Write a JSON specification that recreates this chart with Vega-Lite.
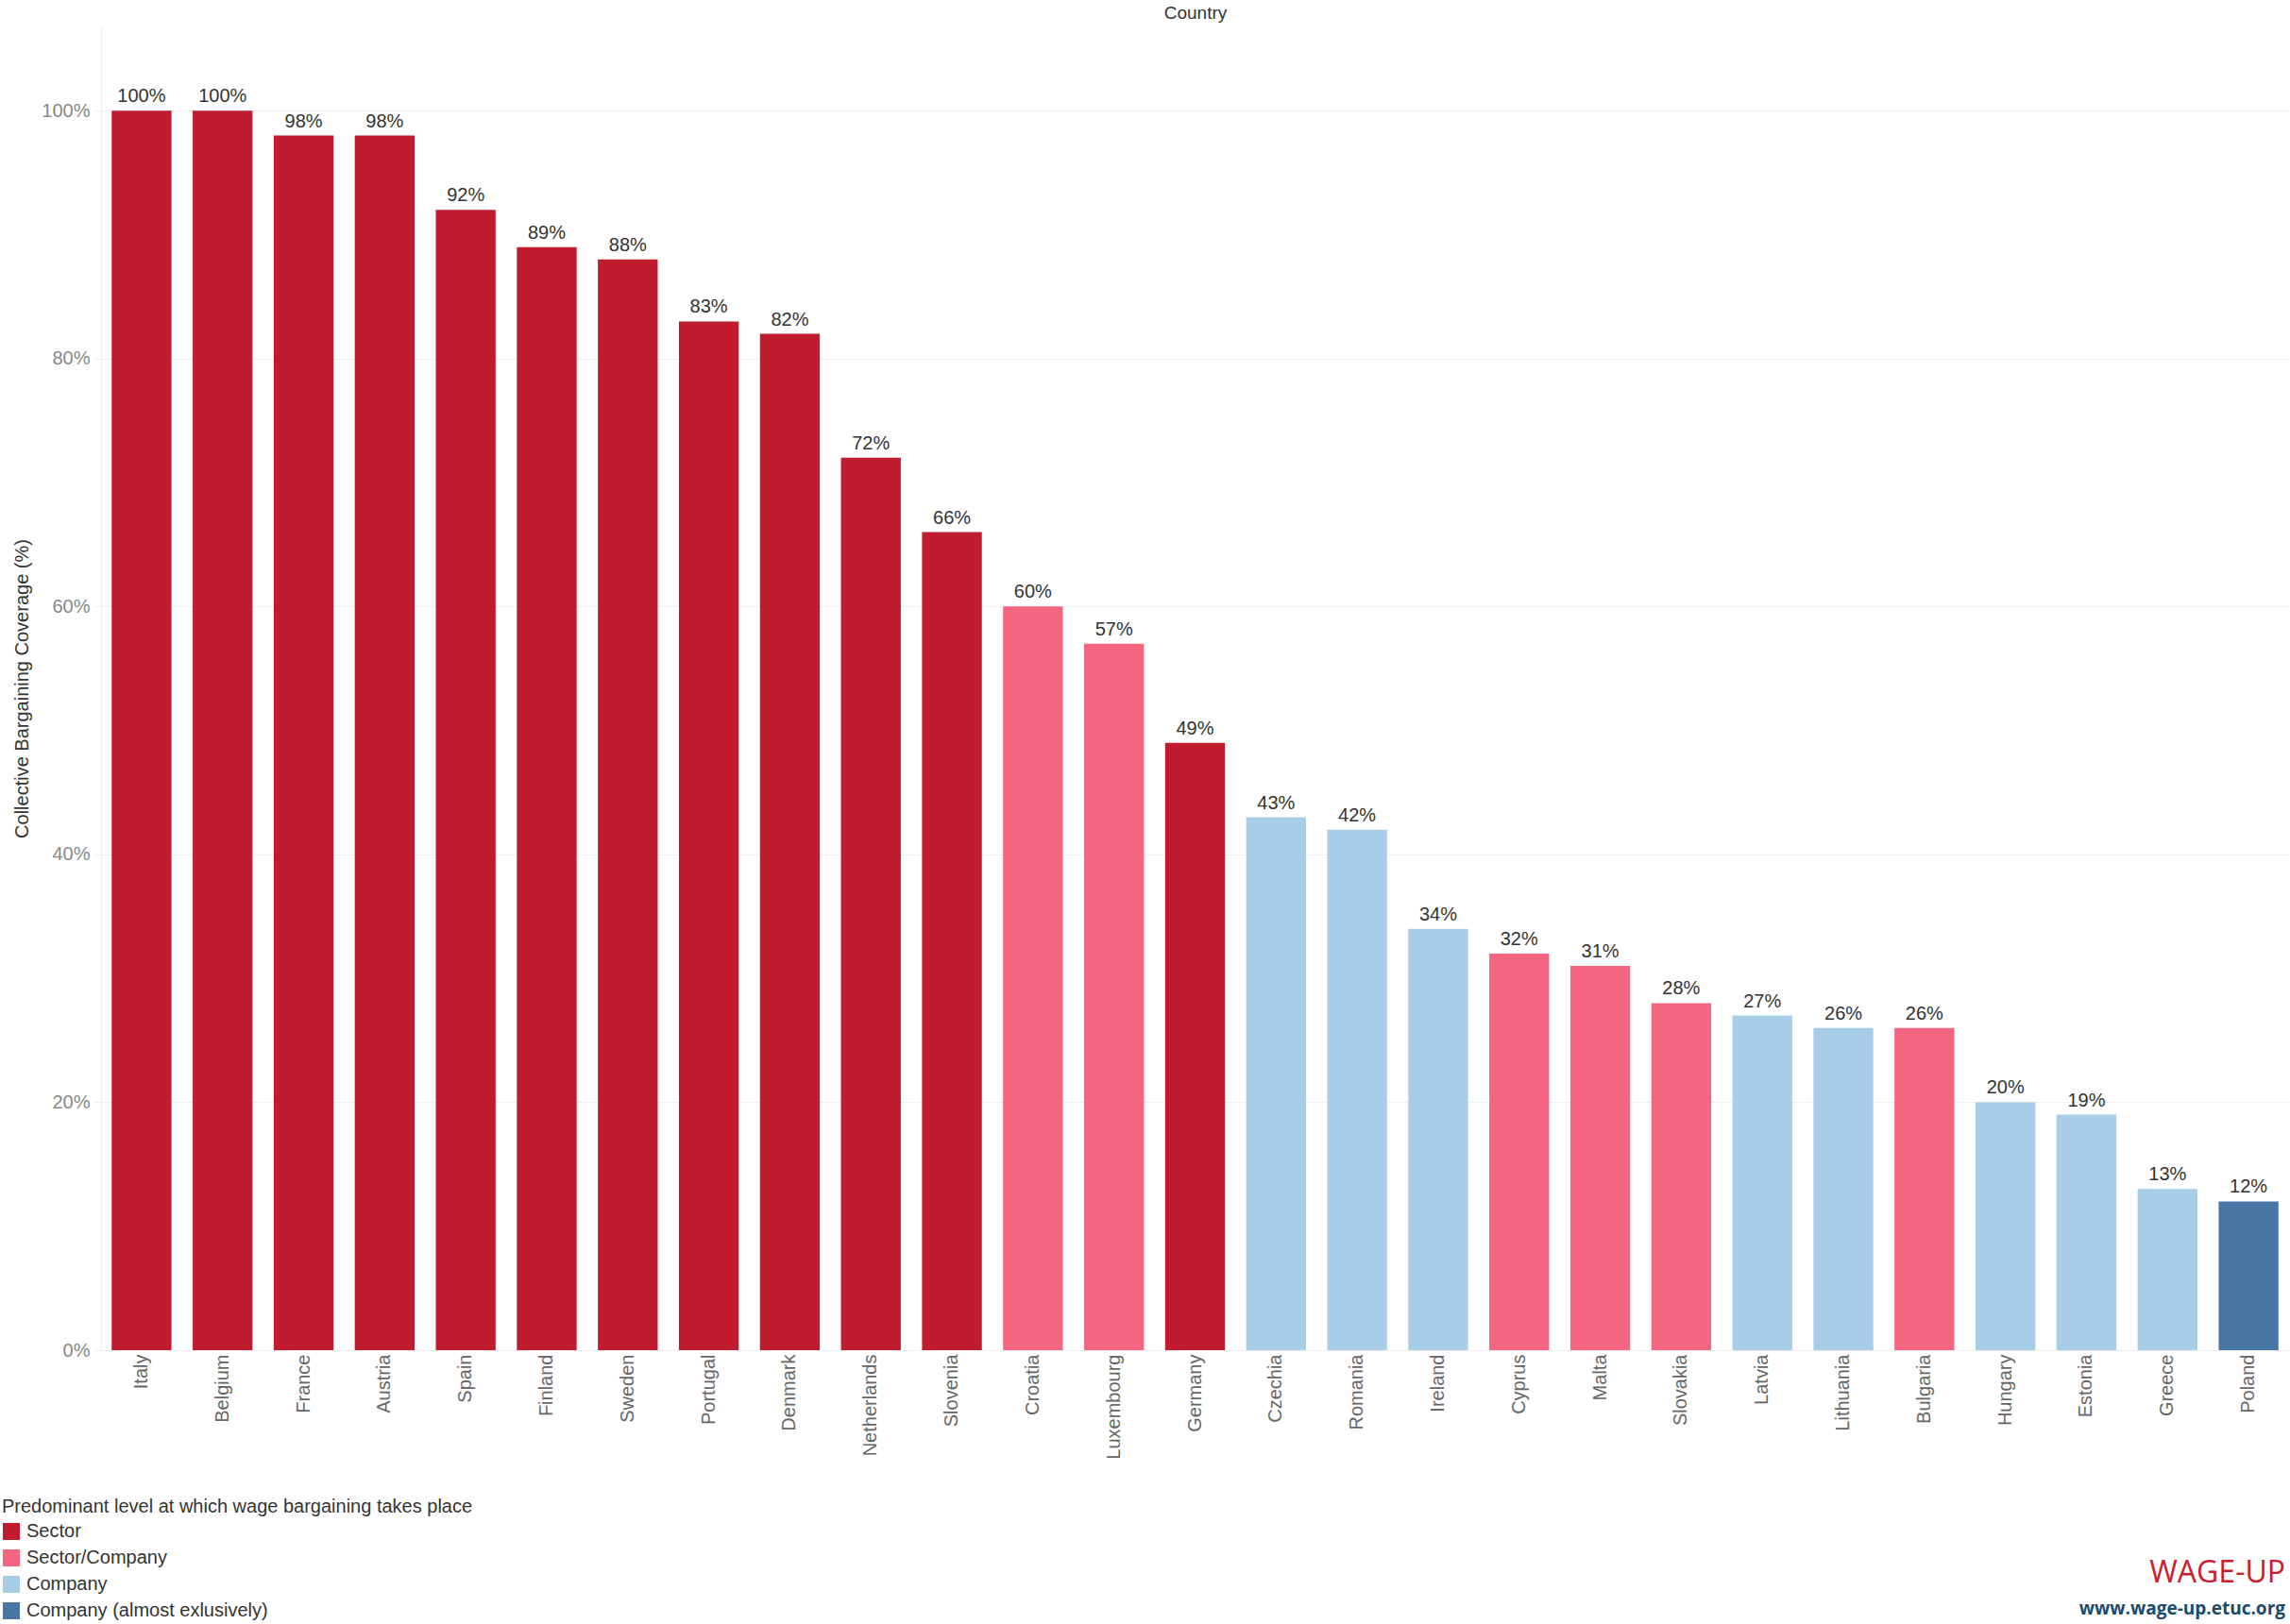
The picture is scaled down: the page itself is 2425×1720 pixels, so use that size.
{
  "$schema": "https://vega.github.io/schema/vega-lite/v6.json",
  "width": 2317,
  "height": 1402,
  "autosize": {"type": "none"},
  "padding": {"left": 107, "top": 28, "right": 1, "bottom": 290},
  "background": "white",
  "config": {
    "view": {"stroke": null},
    "font": "Liberation Sans"
  },
  "title": {
    "text": "WAGE-UP",
    "subtitle": "www.wage-up.etuc.org",
    "orient": "bottom",
    "anchor": "end",
    "frame": "group",
    "font": "Open Sans",
    "fontSize": 32,
    "fontWeight": "normal",
    "color": "#c8202f",
    "subtitleFont": "Open Sans",
    "subtitleFontSize": 19,
    "subtitleFontWeight": "bold",
    "subtitleColor": "#1b4a6b",
    "subtitlePadding": 12,
    "offset": 20,
    "dy": -85,
    "dx": -4
  },
  "data": {
    "values": [
      {"country": "Italy", "coverage": 100, "level": "Sector"},
      {"country": "Belgium", "coverage": 100, "level": "Sector"},
      {"country": "France", "coverage": 98, "level": "Sector"},
      {"country": "Austria", "coverage": 98, "level": "Sector"},
      {"country": "Spain", "coverage": 92, "level": "Sector"},
      {"country": "Finland", "coverage": 89, "level": "Sector"},
      {"country": "Sweden", "coverage": 88, "level": "Sector"},
      {"country": "Portugal", "coverage": 83, "level": "Sector"},
      {"country": "Denmark", "coverage": 82, "level": "Sector"},
      {"country": "Netherlands", "coverage": 72, "level": "Sector"},
      {"country": "Slovenia", "coverage": 66, "level": "Sector"},
      {"country": "Croatia", "coverage": 60, "level": "Sector/Company"},
      {"country": "Luxembourg", "coverage": 57, "level": "Sector/Company"},
      {"country": "Germany", "coverage": 49, "level": "Sector"},
      {"country": "Czechia", "coverage": 43, "level": "Company"},
      {"country": "Romania", "coverage": 42, "level": "Company"},
      {"country": "Ireland", "coverage": 34, "level": "Company"},
      {"country": "Cyprus", "coverage": 32, "level": "Sector/Company"},
      {"country": "Malta", "coverage": 31, "level": "Sector/Company"},
      {"country": "Slovakia", "coverage": 28, "level": "Sector/Company"},
      {"country": "Latvia", "coverage": 27, "level": "Company"},
      {"country": "Lithuania", "coverage": 26, "level": "Company"},
      {"country": "Bulgaria", "coverage": 26, "level": "Sector/Company"},
      {"country": "Hungary", "coverage": 20, "level": "Company"},
      {"country": "Estonia", "coverage": 19, "level": "Company"},
      {"country": "Greece", "coverage": 13, "level": "Company"},
      {"country": "Poland", "coverage": 12, "level": "Company (almost exlusively)"}
    ]
  },
  "encoding": {
    "x": {
      "field": "country",
      "type": "nominal",
      "sort": null,
      "scale": {"paddingInner": 0.262, "paddingOuter": 0.131},
      "axis": {
        "title": "Country",
        "titleY": -1417,
        "titleBaseline": "middle",
        "titleFontSize": 19,
        "titleFontWeight": "normal",
        "titleColor": "#333333",
        "labelAngle": -90,
        "labelAlign": "right",
        "labelBaseline": "middle",
        "labelFontSize": 20,
        "labelColor": "#666666",
        "labelPadding": 4,
        "domainColor": "#eeeeee",
        "ticks": false
      }
    },
    "y": {
      "field": "coverage",
      "type": "quantitative",
      "scale": {"domain": [0, 106.8], "nice": false},
      "axis": {
        "title": "Collective Bargaining Coverage (%)",
        "titleX": -84,
        "titleBaseline": "middle",
        "titleFontSize": 20,
        "titleFontWeight": "normal",
        "titleColor": "#333333",
        "values": [0, 20, 40, 60, 80, 100],
        "labelExpr": "datum.value + '%'",
        "labelFontSize": 20,
        "labelColor": "#888888",
        "labelPadding": 4,
        "gridColor": "#f0f0f0",
        "tickColor": "#f0f0f0",
        "tickSize": 8,
        "domainColor": "#eeeeee"
      }
    }
  },
  "layer": [
    {
      "mark": {"type": "bar"},
      "encoding": {
        "color": {
          "field": "level",
          "type": "nominal",
          "scale": {
            "domain": ["Sector", "Sector/Company", "Company", "Company (almost exlusively)"],
            "range": ["#c01b2f", "#f4667f", "#a7cde7", "#4876a5"]
          },
          "legend": {
            "title": "Predominant level at which wage bargaining takes place",
            "orient": "none",
            "legendX": -105,
            "legendY": 1558,
            "titleFontSize": 20,
            "titleFontWeight": "normal",
            "titleColor": "#333333",
            "titlePadding": 6,
            "titleLimit": 1000,
            "labelFontSize": 20,
            "labelColor": "#333333",
            "labelLimit": 1000,
            "symbolType": "square",
            "symbolSize": 324,
            "symbolStrokeWidth": 0,
            "symbolOpacity": 1,
            "labelOffset": 6,
            "rowPadding": 8
          }
        }
      }
    },
    {
      "mark": {
        "type": "text",
        "baseline": "alphabetic",
        "dy": -9,
        "fontSize": 20,
        "color": "#333333",
        "text": {"expr": "datum.coverage + '%'"}
      },
      "encoding": {}
    }
  ]
}
